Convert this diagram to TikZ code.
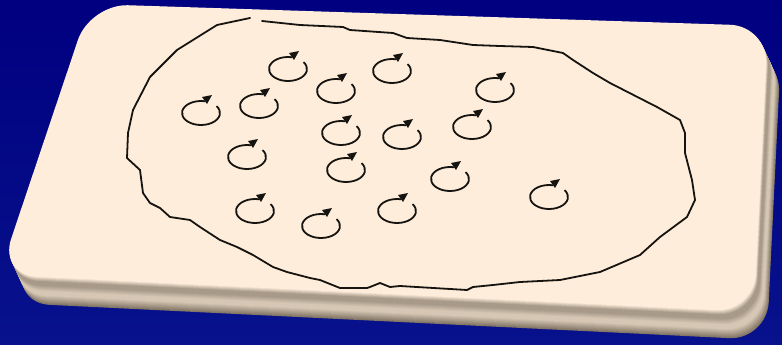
\documentclass[tikz,border=0pt]{standalone}
\usetikzlibrary{calc}
\definecolor{bgtop}{RGB}{0,0,128}
\definecolor{bgbot}{RGB}{8,18,140}
\definecolor{facecol}{RGB}{253,237,218}
\definecolor{bevdark}{RGB}{98,86,70}
\definecolor{ink}{RGB}{22,20,16}
\newcommand\cardlayer[2]{\fill[#1, rounded corners=38pt, shift={#2}] (90,4) -- (768,26) -- (754,312) -- (-1,275) -- cycle;}
\newcommand\rotmark[2]{%
  \draw[ringline] (#1,#2) ++(-35:19 and 12) arc[start angle=-35, end angle=282, x radius=19, y radius=12];
  \fill[ink] ($(#1,#2)+(1,-16)$) -- ($(#1,#2)+(6,-9)$) -- ($(#1,#2)+(11,-18)$) -- cycle;}
\begin{document}
\begin{tikzpicture}[x=1pt,y=1pt,yscale=-1,
  ringline/.style={draw=ink, line width=1.8pt, line join=round},
  blobline/.style={draw=ink, line width=1.8pt, line join=round, line cap=round}]
\useasboundingbox (0,0) rectangle (782,345);
\shade[top color=bgtop, bottom color=bgbot] (0,0) rectangle (782,345);
% card body (extruded bevel)
\foreach \i in {28,27,...,1}{
  \pgfmathtruncatemacro\p{\i<=5 ? 100-11*\i : (\i<=9 ? 45 : (\i<=15 ? 45+(\i-9)*5 : (\i<=19 ? 75 : 75-(\i-19)*6)))}
  \cardlayer{facecol!\p!bevdark}{({0.46*\i},\i)}
}
\cardlayer{facecol}{(0,0)}
% outline region
\draw[blobline] (262,21) -- (300,25) -- (343,27) -- (350,30) -- (393,33) -- (407,38) -- (440,40) -- (473,45) -- (500,46) -- (533,47) -- (563,53) -- (573,60) -- (593,73) -- (610,83) -- (657,107) -- (680,120) -- (685,133) -- (685,153) -- (692,180) -- (695,200) -- (687,217) -- (660,237) -- (640,255) -- (600,272) -- (560,280) -- (520,282) -- (493,285) -- (473,287) -- (467,290) -- (400,286) -- (390,287) -- (380,283) -- (370,287) -- (367,288) -- (340,288) -- (320,280) -- (310,278) -- (287,272) -- (273,267) -- (253,255) -- (237,247) -- (220,240) -- (200,227) -- (190,220) -- (170,217) -- (160,208) -- (150,203) -- (143,193) -- (140,170) -- (127,158) -- (128,133) -- (133,110) -- (150,77) -- (177,50) -- (217,25) -- (250,18);
% rotation marks
\rotmark{288}{69}
\rotmark{392}{71}
\rotmark{336}{91}
\rotmark{495}{90}
\rotmark{201}{113}
\rotmark{259}{106}
\rotmark{341}{133}
\rotmark{402}{137}
\rotmark{472}{127}
\rotmark{247}{157}
\rotmark{346}{170}
\rotmark{450}{179}
\rotmark{549}{197}
\rotmark{255}{211}
\rotmark{321}{226}
\rotmark{397}{211}
\end{tikzpicture}
\end{document}
